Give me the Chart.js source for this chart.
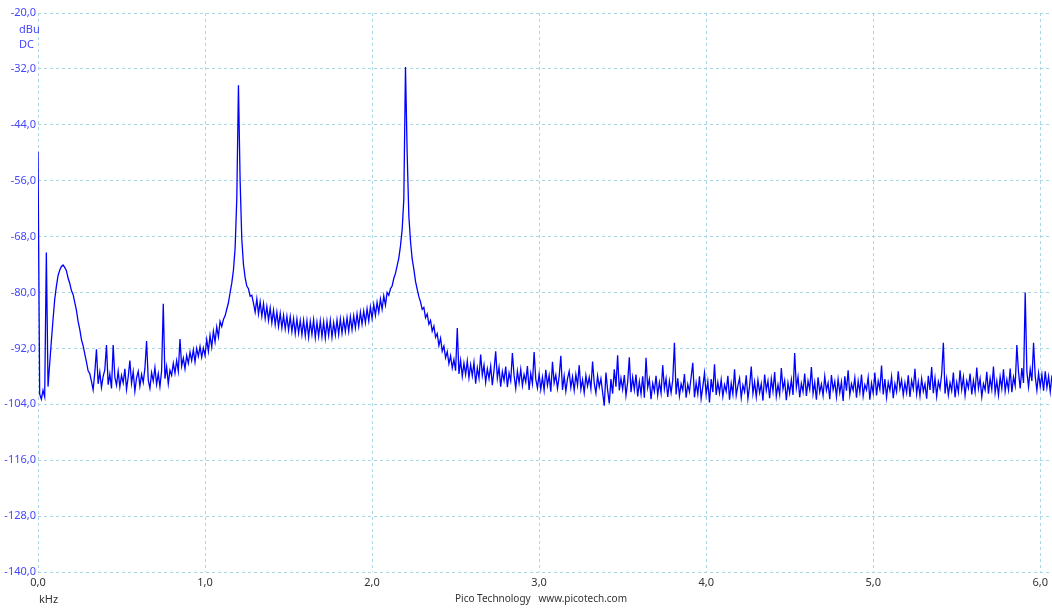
<!DOCTYPE html>
<html>
<head>
<meta charset="utf-8">
<script src="https://cdn.jsdelivr.net/npm/chart.js@4.4.1/dist/chart.umd.min.js"></script>
<style>
  body { margin: 0; background: #fff; }
  #wrap { position: relative; width: 1052px; height: 610px; }
  .lbl { position: absolute; font-family: "Noto Sans", sans-serif; font-size: 11px; line-height: 13px; white-space: pre; }
  .blue { color: #4646ff; }
  .grey { color: #333; }
</style>
</head>
<body>
<div id="wrap">
  <canvas id="spectrum"></canvas>
  <div class="lbl blue" style="left:19px; top:22px;">dBu</div>
  <div class="lbl blue" style="left:19px; top:37px;">DC</div>
  <div class="lbl grey" style="left:39px; top:592px;">kHz</div>
  <div class="lbl grey" style="left:455px; top:592px; font-size:10px;">Pico Technology   www.picotech.com</div>
</div>
<script>
// spectrum, one value per 0.01 kHz bin
const binWidthKHz = 0.01;
const levelsDbu = [
  // 0.0 - 0.9
  -49.8, -101.8, -102.9, -101.0, -102.4, -71.4, -100.2, -95.3, -90.4, -85.8,
  -81.5, -78.7, -76.4, -75.2, -74.4, -74.1, -74.6, -75.3, -76.9, -78.0,
  -79.6, -80.4, -82.1, -83.8, -86.2, -87.9, -90.1, -91.4, -93.2, -94.9,
  -96.8, -97.4, -99.1, -100.9, -97.2, -92.2, -99.6, -97.1, -100.4, -98.0,
  -96.6, -91.3, -99.8, -97.5, -100.6, -91.3, -98.2, -99.9, -96.9, -100.3,
  -97.8, -99.4, -96.4, -100.8, -98.1, -94.6, -99.5, -97.0, -101.2, -98.3,
  -96.9, -100.1, -97.6, -99.3, -96.3, -90.4, -98.8, -100.6, -97.2, -99.0,
  -96.1, -99.7, -97.4, -100.2, -96.8, -82.4, -98.5, -95.9, -99.6, -96.7,
  -97.8, -95.2, -97.3, -94.6, -96.9, -90.0, -95.8, -94.1, -96.4, -93.5,
  -95.2, -92.8, -94.6, -92.3, -94.9, -92.0, -93.7, -91.6, -93.9, -91.9,
  // 1.0 - 1.9
  -93.5, -90.1, -92.6, -89.2, -91.7, -88.3, -90.6, -87.4, -89.5, -86.2,
  -87.3, -85.8, -85.0, -83.6, -82.2, -80.0, -78.0, -75.2, -70.5, -60.0,
  -35.5, -56.0, -68.5, -74.0, -76.8, -78.6, -79.2, -80.8, -80.6, -82.3,
  -84.2, -81.4, -84.6, -82.0, -85.1, -82.4, -85.6, -83.0, -86.0, -83.3,
  -86.5, -83.8, -86.9, -84.2, -87.3, -84.5, -87.6, -84.9, -87.8, -85.1,
  -88.1, -85.2, -88.4, -85.6, -88.8, -85.7, -88.7, -86.0, -89.1, -86.0,
  -89.3, -86.1, -89.6, -86.2, -89.0, -85.9, -89.7, -86.4, -89.4, -86.1,
  -89.5, -86.3, -89.8, -86.2, -89.2, -86.0, -89.6, -86.5, -89.1, -85.9,
  -89.0, -85.7, -88.7, -85.8, -88.4, -85.4, -88.3, -85.2, -88.0, -85.0,
  -87.6, -84.6, -87.3, -84.2, -86.8, -84.0, -86.5, -83.5, -86.1, -83.1,
  // 2.0 - 2.9
  -85.6, -82.6, -84.9, -82.1, -84.3, -81.4, -83.6, -80.7, -82.7, -80.0,
  -80.6, -79.2, -78.6, -77.0, -75.9, -74.3, -72.6, -70.0, -66.5, -60.0,
  -31.6, -50.0, -63.5, -69.0, -72.8, -75.0, -77.6, -79.3, -80.9, -82.0,
  -83.6, -83.2, -85.4, -84.6, -86.8, -86.0, -88.3, -87.2, -89.6, -88.8,
  -91.4, -89.8, -92.6, -91.5, -94.0, -92.7, -95.3, -93.6, -96.2, -94.4,
  -96.8, -87.6, -97.5, -94.6, -98.0, -95.2, -97.6, -94.7, -98.3, -95.5,
  -97.9, -95.0, -99.6, -96.2, -98.4, -93.3, -97.8, -95.6, -99.3, -96.4,
  -98.5, -95.8, -99.9, -96.7, -92.6, -98.4, -96.1, -100.2, -97.0, -98.9,
  -95.9, -100.3, -97.3, -99.0, -93.0, -97.8, -100.6, -96.9, -99.4, -96.5,
  -100.0, -97.6, -99.2, -95.8, -100.9, -97.4, -99.6, -92.8, -98.6, -100.5,
  // 3.0 - 3.9
  -97.5, -100.8, -98.2, -101.0, -96.6, -99.9, -97.8, -101.3, -94.9, -99.4,
  -97.7, -100.6, -98.0, -93.6, -100.9, -97.9, -101.2, -98.5, -96.9, -100.4,
  -98.1, -101.0, -97.6, -99.9, -95.6, -100.8, -98.7, -101.5, -97.8, -100.1,
  -98.2, -100.7, -94.8, -99.5, -101.6, -97.9, -100.3, -98.5, -101.4, -104.3,
  -97.2, -100.9, -103.8, -98.6, -101.7, -96.5, -100.2, -93.5, -101.0, -98.4,
  -100.8, -97.7, -102.1, -99.3, -93.9, -101.4, -98.2, -100.9, -97.6, -102.3,
  -99.1, -101.8, -98.0, -102.6, -94.0, -100.4, -98.6, -102.9, -99.5, -101.2,
  -97.9, -102.0, -99.3, -101.6, -95.6, -100.7, -98.5, -102.4, -99.0, -101.5,
  -98.8, -90.8, -101.9, -98.4, -102.2, -99.6, -101.0, -97.5, -102.6, -99.7,
  -101.3, -98.2, -95.1, -102.5, -99.4, -101.8, -98.0, -102.8, -100.2, -97.3,
  // 4.0 - 4.9
  -101.9, -99.1, -103.6, -98.6, -101.4, -95.4, -102.0, -99.3, -101.6, -98.7,
  -102.3, -99.8, -101.2, -97.9, -103.0, -99.5, -101.8, -96.5, -102.1, -100.0,
  -98.4, -102.6, -99.9, -101.3, -97.8, -102.8, -100.1, -95.9, -101.7, -99.2,
  -102.4, -98.8, -101.5, -99.6, -103.2, -97.6, -101.0, -99.0, -102.7, -98.5,
  -101.2, -97.1, -102.3, -99.8, -101.9, -96.2, -100.7, -98.9, -103.1, -99.4,
  -101.6, -98.7, -102.0, -93.0, -100.4, -98.1, -102.5, -99.5, -101.3, -97.4,
  -102.2, -99.0, -100.8, -96.0, -101.7, -99.3, -103.0, -98.2, -101.4, -99.7,
  -102.1, -98.0, -101.0, -99.4, -102.9, -97.7, -100.9, -99.1, -102.4, -98.6,
  -101.5, -99.2, -103.3, -98.0, -101.1, -96.7, -102.0, -99.6, -101.0, -98.3,
  -102.6, -99.0, -101.4, -97.6, -102.2, -99.8, -100.9, -98.2, -103.0, -99.5,
  // 5.0 - 5.9
  -101.6, -97.2, -102.1, -99.0, -100.8, -95.7, -101.9, -98.6, -102.5, -99.3,
  -101.0, -98.1, -102.7, -99.6, -101.3, -96.9, -100.6, -98.8, -102.0, -99.4,
  -101.5, -97.8, -102.4, -98.9, -100.7, -96.4, -101.8, -99.2, -102.2, -98.5,
  -101.2, -99.6, -102.8, -97.9, -100.9, -96.0, -101.6, -98.4, -102.3, -99.1,
  -100.6, -97.5, -90.8, -101.7, -98.6, -102.0, -99.4, -101.1, -97.2, -102.5,
  -99.3, -101.4, -96.7, -100.8, -98.2, -102.1, -99.0, -100.5, -97.4, -101.9,
  -98.9, -101.3, -96.1, -100.6, -98.5, -102.4, -99.6, -100.9, -97.0, -101.7,
  -98.4, -100.8, -95.9, -101.5, -99.0, -102.0, -98.1, -100.6, -96.5, -101.2,
  -98.7, -100.9, -96.3, -101.4, -98.2, -100.0, -91.3, -97.1, -100.6, -96.2,
  -99.4, -80.0, -97.0, -100.3, -96.5, -99.0, -90.8, -98.0, -101.0, -97.3,
  // 6.0 -
  -100.2, -97.6, -101.1, -96.9, -100.4, -98.0, -101.3, -97.8
];

const xTicksKHz = [0, 1, 2, 3, 4, 5, 6];
const xMaxKHz = 6.07;
const yMinDbu = -140;
const yMaxDbu = -20;
const yStepDbu = 12;

const points = levelsDbu.map((v, i) => ({ x: +(i * binWidthKHz).toFixed(2), y: v }));

const comma = v => v.toFixed(1).replace(".", ",");
const gridColor = "#aad6e6";

new Chart(document.getElementById("spectrum"), {
  type: "line",
  data: {
    datasets: [{
      data: points,
      borderColor: "#0000ff",
      borderWidth: 1.3,
      pointRadius: 0,
      tension: 0,
      fill: false
    }]
  },
  options: {
    responsive: true,
    maintainAspectRatio: false,
    animation: false,
    layout: { padding: { top: 13, right: 0, left: 0, bottom: 0 } },
    plugins: { legend: { display: false }, tooltip: { enabled: false } },
    scales: {
      x: {
        type: "linear",
        min: 0,
        max: xMaxKHz,
        afterBuildTicks: axis => { axis.ticks = xTicksKHz.map(v => ({ value: v })); },
        afterFit: axis => { axis.height = 38; },
        grid: { color: gridColor, drawTicks: false },
        border: { display: false, dash: [3, 3] },
        ticks: {
          padding: 4,
          color: "#333",
          font: { family: "Noto Sans", size: 11 },
          maxRotation: 0,
          callback: v => comma(v)
        }
      },
      y: {
        min: yMinDbu,
        max: yMaxDbu,
        afterFit: axis => { axis.width = 38; },
        grid: { color: gridColor, drawTicks: false },
        border: { display: false, dash: [3, 3] },
        ticks: {
          stepSize: yStepDbu,
          padding: 2,
          color: "#4646ff",
          font: { family: "Noto Sans", size: 11 },
          callback: v => comma(v)
        }
      }
    }
  }
});
</script>
</body>
</html>
